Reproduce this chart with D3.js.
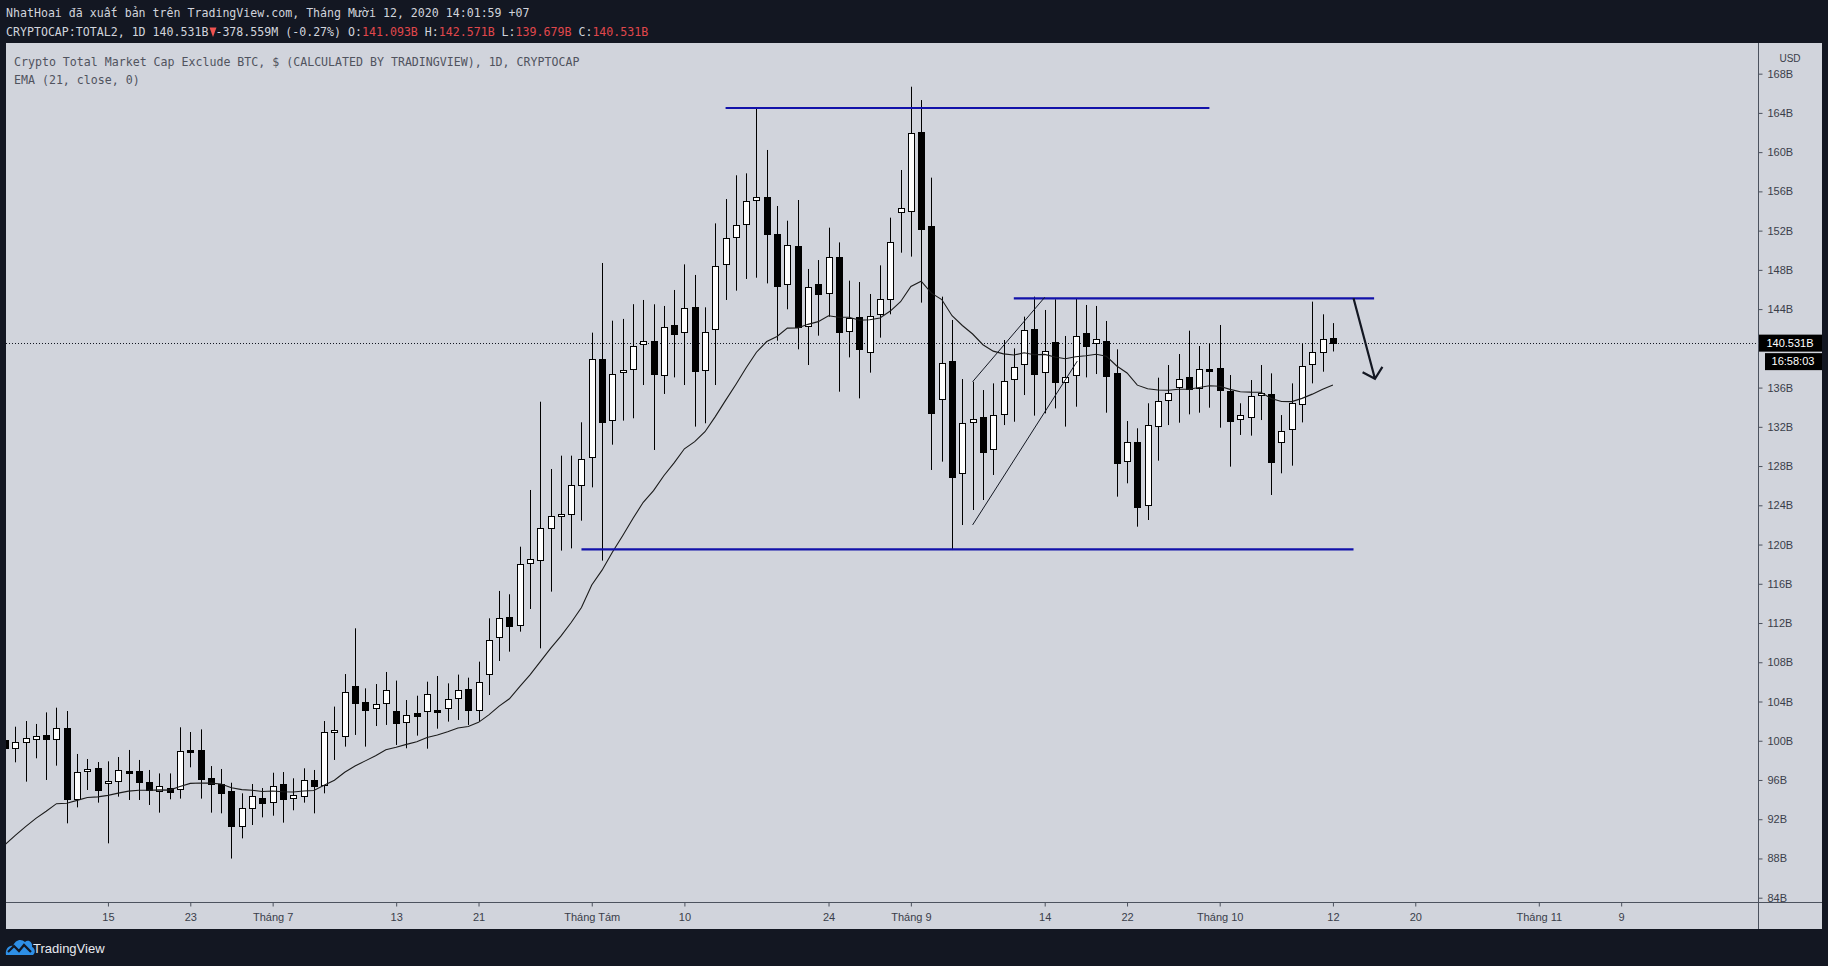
<!DOCTYPE html>
<html><head><meta charset="utf-8">
<script src="https://cdn.jsdelivr.net/npm/d3@7"></script>
<style>html,body{margin:0;padding:0;background:#131722;overflow:hidden}</style>
</head><body>
<svg id="c" width="1828" height="966"></svg>
<script>
// ---- data (billions USD) ----
const dates = [
"06-05","06-06","06-07","06-08","06-09","06-10","06-11","06-12","06-13","06-14","06-15","06-16","06-17","06-18","06-19","06-20","06-21","06-22","06-23","06-24","06-25","06-26","06-27","06-28","06-29","06-30",
"07-01","07-02","07-03","07-04","07-05","07-06","07-07","07-08","07-09","07-10","07-11","07-12","07-13","07-14","07-15","07-16","07-17","07-18","07-19","07-20","07-21","07-22","07-23","07-24","07-25","07-26","07-27","07-28","07-29","07-30","07-31",
"08-01","08-02","08-03","08-04","08-05","08-06","08-07","08-08","08-09","08-10","08-11","08-12","08-13","08-14","08-15","08-16","08-17","08-18","08-19","08-20","08-21","08-22","08-23","08-24","08-25","08-26","08-27","08-28","08-29","08-30","08-31",
"09-01","09-02","09-03","09-04","09-05","09-06","09-07","09-08","09-09","09-10","09-11","09-12","09-13","09-14","09-15","09-16","09-17","09-18","09-19","09-20","09-21","09-22","09-23","09-24","09-25","09-26","09-27","09-28","09-29","09-30",
"10-01","10-02","10-03","10-04","10-05","10-06","10-07","10-08","10-09","10-10","10-11","10-12"];
const opens = [
100.07,99.22,99.84,100.14,100.58,100.14,101.26,94.10,96.88,97.19,95.66,95.86,96.92,96.88,95.76,94.84,95.22,95.05,99.02,99.02,96.17,95.59,94.88,91.34,93.11,94.20,
93.72,95.56,94.13,94.33,96.00,95.45,100.86,100.45,105.61,103.91,103.30,103.81,103.07,101.91,102.80,103.03,103.10,103.30,104.32,105.24,103.13,106.80,110.58,112.58,111.76,118.08,118.43,121.65,122.88,123.08,126.04,
128.92,138.88,132.66,137.59,137.86,140.44,140.78,137.28,142.35,141.63,144.18,137.76,141.97,148.60,151.32,152.64,155.09,155.43,151.66,146.52,150.40,142.24,146.52,145.61,149.35,141.73,143.16,139.59,143.47,145.00,153.86,
153.97,162.05,152.50,134.80,138.71,127.26,132.49,133.03,129.70,133.34,136.87,138.37,141.94,137.55,140.61,136.57,137.25,141.53,140.51,140.78,137.52,128.48,130.42,123.99,132.08,134.70,136.03,137.04,135.96,137.93,
137.96,135.65,132.76,132.97,135.21,135.31,130.42,131.74,134.29,138.40,139.59,141.093];
const highs = [
100.8,101.43,102.01,101.71,102.89,103.37,103.03,98.65,98.14,97.83,97.90,98.34,99.06,98.04,97.02,96.67,96.67,101.37,100.89,101.16,97.42,97.12,95.72,94.64,95.59,95.18,
96.74,96.81,96.17,97.19,97.02,102.01,103.48,106.80,111.46,105.34,105.78,107.01,106.13,104.15,104.59,106.02,106.60,105.85,106.74,106.43,108.06,112.48,115.27,114.93,119.78,125.56,134.56,127.70,129.06,129.06,132.46,
141.60,148.70,142.82,143.00,144.50,144.93,144.49,144.32,145.95,148.56,147.48,144.18,152.74,155.22,157.64,157.84,164.53,160.22,154.51,153.01,155.12,148.09,149.00,152.30,150.80,146.90,146.76,145.54,148.46,153.32,158.18,
166.67,165.31,157.40,145.27,142.89,136.87,136.60,135.75,136.43,140.85,140.00,143.23,145.27,143.91,145.00,141.26,145.10,144.42,144.32,142.79,139.90,132.59,131.85,134.40,137.01,138.30,139.42,141.80,140.24,140.51,
142.38,137.28,134.40,136.77,138.30,137.45,133.20,136.43,140.51,144.76,143.47,142.571];
const lows = [
98.6,97.80,95.83,98.21,96.00,97.46,91.58,93.21,94.98,93.69,89.54,94.30,93.96,93.96,93.45,92.67,94.03,94.10,97.29,94.10,92.67,92.60,87.99,90.05,91.41,92.19,
92.36,91.65,92.91,93.69,92.60,94.64,98.04,99.40,100.59,99.40,101.50,101.61,99.57,99.23,100.52,99.19,101.23,101.95,102.12,101.61,101.95,104.66,108.13,109.08,111.12,113.43,109.42,115.20,119.38,119.61,122.43,
125.83,118.36,130.18,132.63,132.87,136.26,129.64,135.35,137.04,136.26,132.02,132.36,136.26,144.93,145.88,147.07,147.20,146.62,140.78,143.98,139.90,138.30,141.29,143.23,135.58,139.08,134.90,137.52,141.09,143.47,149.75,
149.35,144.66,127.60,128.45,119.44,121.99,123.52,124.54,127.09,132.18,132.52,135.24,133.14,133.37,133.88,132.02,134.05,137.04,137.38,133.44,124.88,126.24,121.82,122.50,128.55,132.18,132.42,133.27,133.44,133.95,
131.91,127.94,131.17,131.10,132.69,125.05,127.26,128.04,132.45,136.43,137.62,139.679];
const closes = [
99.22,99.84,100.25,100.45,100.14,101.26,94.10,96.78,97.12,95.01,95.90,96.98,96.85,95.83,95.01,95.35,94.74,98.92,98.89,96.13,95.56,94.71,91.34,93.11,94.33,93.62,
95.35,94.03,94.47,95.96,95.42,100.86,101.06,104.93,103.81,103.13,103.78,105.14,101.77,102.66,102.49,104.73,103.03,104.22,105.14,103.10,106.02,110.30,112.48,111.73,117.98,118.53,121.65,122.91,123.08,126.04,128.75,
138.88,132.53,137.39,137.79,140.27,140.78,137.35,142.21,141.43,144.15,137.72,141.70,148.42,151.28,152.54,155.05,155.39,151.62,146.39,150.50,142.18,146.22,145.51,149.35,141.63,143.06,139.90,143.33,145.00,150.80,154.31,
161.92,152.20,133.37,138.47,126.85,132.36,132.76,129.47,133.17,136.64,138.13,141.84,137.35,139.76,136.53,137.04,141.22,140.20,140.92,137.21,128.28,130.42,123.79,132.15,134.60,135.41,136.84,135.85,137.86,137.83,
135.72,132.63,133.17,135.11,135.48,128.38,131.61,134.40,138.23,139.66,140.92,140.531];
const emaLength = 21;
const emaStart = 89.4;   // EMA value at the first visible bar

const xTickDates = ["2020-06-15","2020-06-23","2020-07-01","2020-07-13","2020-07-21","2020-08-01","2020-08-10","2020-08-24","2020-09-01","2020-09-14","2020-09-22","2020-10-01","2020-10-12","2020-10-20","2020-11-01","2020-11-09"];
const xTickLabels = ["15","23","Tháng 7","13","21","Tháng Tám","10","24","Tháng 9","14","22","Tháng 10","12","20","Tháng 11","9"];
// 140B is hidden behind the last-price label in the reference
const yTicks = [84,88,92,96,100,104,108,112,116,120,124,128,132,136,144,148,152,156,160,164,168];

// drawings (date, value) pairs
const hLevels = [
  {from:"2020-08-14", to:"2020-09-30", v:164.5},
  {from:"2020-07-31", to:"2020-10-14", v:119.5},
  {from:"2020-09-11", to:"2020-10-16", v:145.1}
];
const trendLines = [
  {d1:"2020-09-07T00:00Z", v1:136.6, d2:"2020-09-14T00:00Z", v2:145.2},
  {d1:"2020-09-07T00:00Z", v1:122.0, d2:"2020-09-17T04:00Z", v2:138.7}
];
const arrowLine = {d1:"2020-10-14T00:00Z", v1:145.1, d2:"2020-10-16T02:00Z", v2:136.9};

// ---- layout ----
const W = 1828, H = 966;
const panel = {x:6, y:43, w:1816, h:886};
const plotRight = 1758, plotBottom = 902;
const svg = d3.select("#c");
const parse = s => new Date(s.length === 5 ? "2020-" + s + "T00:00Z" : (s.length === 10 ? s + "T00:00Z" : s));

const x = d3.scaleUtc().domain([parse("2020-06-05"), parse("2020-11-22")]).range([5, 5 + 170 * 10.294]);
const y = d3.scaleLinear().domain([84, 168]).range([897.7, 73.66]);

svg.append("rect").attr("width", W).attr("height", H).attr("fill", "#131722");
svg.append("rect").attr("x", panel.x).attr("y", panel.y).attr("width", panel.w).attr("height", panel.h).attr("fill", "#d1d4dc");

const defs = svg.append("defs");
defs.append("clipPath").attr("id", "plotClip").append("rect")
  .attr("x", panel.x).attr("y", panel.y).attr("width", plotRight - panel.x).attr("height", plotBottom - panel.y);

// header texts
const mono = "'DejaVu Sans Mono', 'Liberation Mono', monospace";
svg.append("text").attr("x", 6).attr("y", 17).attr("font-family", mono).attr("font-size", 11.6)
  .attr("fill", "#d1d4dc").text("NhatHoai đã xuất bản trên TradingView.com, Tháng Mười 12, 2020 14:01:59 +07");
const t2 = svg.append("text").attr("x", 6).attr("y", 35.5).attr("font-family", mono).attr("font-size", 11.6).attr("fill", "#d1d4dc").attr("xml:space", "preserve");
const red = "#e0474c";
[["CRYPTOCAP:TOTAL2, 1D 140.531B", null], ["\u00a0", null], ["-378.559M (-0.27%) O:", null], ["141.093B", red], [" H:", null], ["142.571B", red],
 [" L:", null], ["139.679B", red], [" C:", null], ["140.531B", red]].forEach(([s, c]) => {
  const ts = t2.append("tspan").text(s); if (c) ts.attr("fill", c);
});
svg.append("path").attr("d", "M209.5,27.5 L216.5,27.5 L213,37 Z").attr("fill", "#ef5350");

// legend in panel
svg.append("text").attr("x", 14).attr("y", 66).attr("font-family", mono).attr("font-size", 11.6).attr("fill", "#50535e")
  .text("Crypto Total Market Cap Exclude BTC, $ (CALCULATED BY TRADINGVIEW), 1D, CRYPTOCAP");
svg.append("text").attr("x", 14).attr("y", 83.5).attr("font-family", mono).attr("font-size", 11.6).attr("fill", "#50535e")
  .text("EMA (21, close, 0)");

// axes lines
svg.append("line").attr("x1", plotRight + 0.5).attr("x2", plotRight + 0.5).attr("y1", panel.y).attr("y2", panel.y + panel.h).attr("stroke", "#4c525e").attr("stroke-width", 1);
svg.append("line").attr("x1", panel.x).attr("x2", panel.x + panel.w).attr("y1", plotBottom + 0.5).attr("y2", plotBottom + 0.5).attr("stroke", "#4c525e").attr("stroke-width", 1);

// x axis
const sans = "'Liberation Sans', Arial, sans-serif";
const xAxis = d3.axisBottom(x).tickValues(xTickDates.map(parse)).tickFormat((d, i) => xTickLabels[i]).tickSize(4).tickPadding(7);
const gx = svg.append("g").attr("transform", `translate(0,${plotBottom + 0.5})`).call(xAxis);
gx.select(".domain").remove();
gx.selectAll("line").attr("stroke", "#4c525e");
gx.selectAll("text").attr("font-family", sans).attr("font-size", 11).attr("fill", "#3a3e4a");

// y axis
const yAxis = d3.axisRight(y).tickValues(yTicks).tickFormat(d => d + "B").tickSize(4).tickPadding(5);
const gy = svg.append("g").attr("transform", `translate(${plotRight + 0.5},0)`).call(yAxis);
gy.select(".domain").remove();
gy.selectAll("line").attr("stroke", "#4c525e");
gy.selectAll("text").attr("font-family", sans).attr("font-size", 11).attr("fill", "#3a3e4a");
svg.append("text").attr("x", 1790).attr("y", 61.5).attr("text-anchor", "middle").attr("font-family", sans).attr("font-size", 10).attr("fill", "#3a3e4a").text("USD");

// plot content
const plot = svg.append("g").attr("clip-path", "url(#plotClip)");

// dotted last price line
const lastClose = closes[closes.length - 1];
plot.append("line").attr("x1", panel.x).attr("x2", plotRight).attr("y1", Math.round(y(lastClose)) + 0.5).attr("y2", Math.round(y(lastClose)) + 0.5)
  .attr("stroke", "#131722").attr("stroke-width", 1).attr("stroke-dasharray", "1,2");

// candles
const bars = dates.map((d, i) => ({date: parse(d), o: opens[i], h: highs[i], l: lows[i], c: closes[i]}));
const cg = plot.append("g");
bars.forEach(b => {
  const cx = Math.round(x(b.date)) + 0.5;
  cg.append("line").attr("x1", cx).attr("x2", cx).attr("y1", y(b.h)).attr("y2", y(b.l)).attr("stroke", "#000").attr("stroke-width", 1);
  const top = Math.round(y(Math.max(b.o, b.c))) + 0.5;
  const bot = Math.max(top + 2, Math.round(y(Math.min(b.o, b.c))) + 0.5);
  cg.append("rect").attr("x", cx - 3).attr("y", top).attr("width", 6).attr("height", bot - top)
    .attr("fill", b.c >= b.o ? "#ffffff" : "#000000").attr("stroke", "#000").attr("stroke-width", 1);
});

// EMA 21 of close
const k = 2 / (emaLength + 1);
const ema = [];
closes.forEach((c, i) => { ema.push(i === 0 ? emaStart : ema[i - 1] + k * (c - ema[i - 1])); });
plot.append("path").datum(ema).attr("fill", "none").attr("stroke", "#1b1b1b").attr("stroke-width", 1.1)
  .attr("d", d3.line().x((d, i) => x(bars[i].date)).y(d => y(d)));

// drawings
hLevels.forEach(l => {
  plot.append("line").attr("x1", x(parse(l.from))).attr("x2", x(parse(l.to))).attr("y1", y(l.v)).attr("y2", y(l.v))
    .attr("stroke", "#1212aa").attr("stroke-width", 2.2);
});
trendLines.forEach(t => {
  plot.append("line").attr("x1", x(parse(t.d1))).attr("y1", y(t.v1)).attr("x2", x(parse(t.d2))).attr("y2", y(t.v2))
    .attr("stroke", "#131722").attr("stroke-width", 1);
});
{
  const x1 = x(parse(arrowLine.d1)), y1 = y(arrowLine.v1), x2 = x(parse(arrowLine.d2)), y2 = y(arrowLine.v2);
  const ang = Math.atan2(y1 - y2, x1 - x2), len = 14, spread = 47 * Math.PI / 180;
  const p = d3.path();
  p.moveTo(x1, y1); p.lineTo(x2, y2);
  p.moveTo(x2 + len * Math.cos(ang - spread), y2 + len * Math.sin(ang - spread)); p.lineTo(x2, y2);
  p.lineTo(x2 + len * Math.cos(ang + spread), y2 + len * Math.sin(ang + spread));
  plot.append("path").attr("d", p.toString()).attr("fill", "none").attr("stroke", "#131722").attr("stroke-width", 2.2)
    .attr("stroke-linejoin", "miter").attr("stroke-linecap", "butt");
}

// price label + countdown
const ly = y(lastClose);
svg.append("rect").attr("x", plotRight + 1).attr("y", ly - 8.5).attr("width", 63).attr("height", 17).attr("fill", "#000");
svg.append("text").attr("x", 1790).attr("y", ly + 0.5).attr("text-anchor", "middle").attr("dominant-baseline", "middle")
  .attr("font-family", sans).attr("font-size", 11).attr("fill", "#fff").text(lastClose.toFixed(3) + "B");
svg.append("rect").attr("x", 1765).attr("y", ly + 10).attr("width", 57).attr("height", 17).attr("fill", "#000");
svg.append("text").attr("x", 1793).attr("y", ly + 19).attr("text-anchor", "middle").attr("dominant-baseline", "middle")
  .attr("font-family", sans).attr("font-size", 11).attr("fill", "#fff").text("16:58:03");

// footer logo
const logo = svg.append("g").attr("transform", "translate(5,934)");
logo.append("path").attr("d", "M1,21 C0,15 4,11 8,12 C10,6 16,4 20,8 C23,5 28,8 27,13 C30,14 31,19 28,21 Z").attr("fill", "#2e8fe6");
logo.append("path").attr("d", "M3,18 L9,12 L14,17 L19,11 L26,18").attr("fill", "none").attr("stroke", "#131722").attr("stroke-width", 2.2);
svg.append("text").attr("x", 33).attr("y", 952.5).attr("font-family", sans).attr("font-size", 13).attr("fill", "#e8eaf0").text("TradingView");
</script>
</body></html>
